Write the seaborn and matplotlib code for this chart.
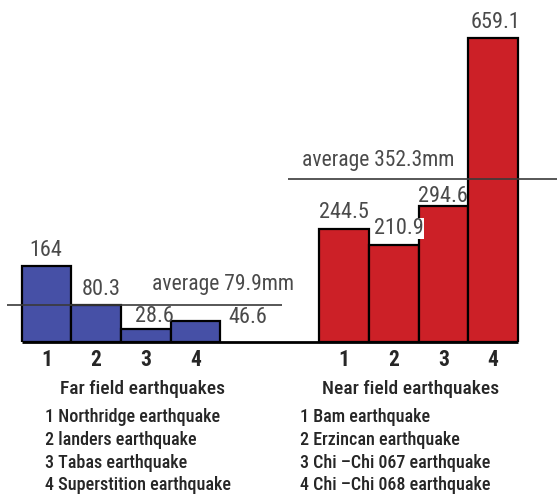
import pandas as pd
import matplotlib.pyplot as plt
import seaborn as sns
from matplotlib import font_manager

# data
far_vals = [164, 80.3, 28.6, 46.6]
near_vals = [244.5, 210.9, 294.6, 659.1]
far_labels = ["164", "80.3", "28.6", "46.6"]
near_labels = ["244.5", "210.9", "294.6", "659.1"]
far_avg = 79.9
near_avg = 352.3
tick_labels = ["1", "2", "3", "4"]
far_names = ["1 Northridge earthquake", "2 landers earthquake",
             "3 Tabas earthquake", "4 Superstition earthquake"]
near_names = ["1 Bam earthquake", "2 Erzincan earthquake",
              "3 Chi \u2013Chi 067 earthquake", "4 Chi \u2013Chi 068 earthquake"]

far_pos = [0, 1, 2, 3]
near_pos = [6, 7, 8, 9]

df = pd.DataFrame({
    "pos": far_pos + near_pos,
    "value": far_vals + near_vals,
    "group": ["far"] * 4 + ["near"] * 4,
})

# narrow font if we have one
installed = {f.name for f in font_manager.fontManager.ttflist}
font = "DejaVu Sans"
for cand in ["Roboto Condensed", "Liberation Sans Narrow", "Arial Narrow", "Roboto"]:
    if cand in installed:
        font = cand
        break

sns.set_style("white")
plt.rcParams["font.family"] = [font, "DejaVu Sans"]

W, H = 557, 495
fig = plt.figure(figsize=(5.57, 4.95), dpi=100)
base_px = 342
ax = fig.add_axes([0, (H - base_px) / H, 1, base_px / H])

sns.barplot(data=df, x="pos", y="value", hue="group", native_scale=True,
            dodge=False, width=1, saturation=1,
            palette={"far": "#4650a6", "near": "#cc2027"},
            edgecolor="black", linewidth=1.6, legend=False, ax=ax)

# px -> data: 49.6 px per bar, 0.4613 px per unit
xmin = -46.5 / 49.6
ax.set_xlim(xmin, xmin + W / 49.6)
ax.set_ylim(0, base_px / 0.4613)
sns.despine(ax=ax, left=True, bottom=True)
ax.set_yticks([])
ax.set_xlabel("")
ax.set_ylabel("")
ax.set_xticks(far_pos + near_pos, tick_labels + tick_labels)
ax.tick_params(axis="x", length=0, pad=5, labelsize=15.5)
for t in ax.get_xticklabels():
    t.set_fontweight("semibold")

ax.hlines(0, -0.5, 9.5, color="black", lw=2, clip_on=False, zorder=5)

# average lines
ax.hlines(far_avg, -0.80, 4.75, color="#3a3a3a", lw=1.2, zorder=4, clip_on=False)
ax.hlines(near_avg, 4.87, 10.4, color="#3a3a3a", lw=1.2, zorder=4, clip_on=False)
ax.text(2.13, 125.7, f"average {far_avg}mm", ha="left", va="center",
        fontsize=15.5, color="#4a4a4a")
ax.text(5.15, 392.4, f"average {near_avg}mm", ha="left", va="center",
        fontsize=15.5, color="#4a4a4a")

# value labels (offsets in pixels from bar top centre)
far_off = [(-1, 16), (5, 15.5), (8.5, 12.5), (53, 3.5)]
near_off = [(0, 17), (5.5, 16), (0, 10), (3, 15)]
for pos, v, lab, off in zip(far_pos + near_pos, far_vals + near_vals,
                            far_labels + near_labels, far_off + near_off):
    kw = {}
    if lab == "210.9":
        kw["bbox"] = dict(facecolor="white", edgecolor="none", pad=0)
    ax.annotate(lab, (pos, v), xytext=off, textcoords="offset pixels",
                ha="center", va="center", fontsize=16, color="#4a4a4a",
                zorder=6, **kw)

# captions below the chart
fig.text(143 / W, 1 - 389 / H, "Far field earthquakes", ha="center",
         va="center", fontsize=14, fontweight="medium")
fig.text(411 / W, 1 - 389 / H, "Near field earthquakes", ha="center",
         va="center", fontsize=14, fontweight="medium")
for i, (a, b) in enumerate(zip(far_names, near_names)):
    y = 1 - [417, 440, 463, 485][i] / H
    fig.text(45 / W, y, a, ha="left", va="center", fontsize=13,
             fontweight="medium")
    fig.text(300 / W, y, b, ha="left", va="center", fontsize=13,
             fontweight="medium")

fig.savefig("out.png", dpi=100)
